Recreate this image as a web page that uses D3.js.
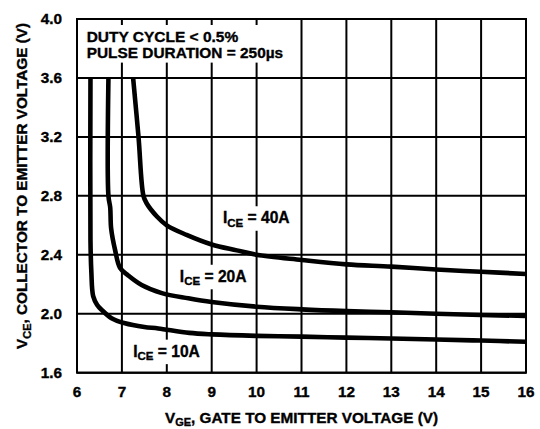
<!DOCTYPE html>
<html>
<head>
<meta charset="utf-8">
<script src="https://cdn.jsdelivr.net/npm/d3@7"></script>
<style>
  html, body { margin: 0; padding: 0; background: #fff; }
  svg { display: block; }
  text { font-family: "Liberation Sans", Arial, sans-serif; font-weight: bold; fill: #000; stroke: #000; stroke-width: 0.35px; }
</style>
</head>
<body>
<svg id="chart" width="540" height="429"></svg>
<script>
// ---- data ----
const xTicks = [6, 7, 8, 9, 10, 11, 12, 13, 14, 15, 16];
const yTicks = [1.6, 2.0, 2.4, 2.8, 3.2, 3.6, 4.0];

// I_CE = 10A
const vge10 = [6.30, 6.30, 6.32, 6.36, 6.45, 6.55, 6.77, 7.07, 7.5, 7.81, 8.5, 9, 10, 11, 12, 13, 14, 15, 16];
const vce10 = [3.6, 2.5, 2.28, 2.12, 2.06, 2.026, 1.97, 1.935, 1.91, 1.90, 1.87, 1.86, 1.85, 1.845, 1.838, 1.832, 1.825, 1.818, 1.81];
// I_CE = 20A
const vge20 = [6.70, 6.70, 6.74, 6.76, 6.85, 6.96, 7.14, 7.44, 7.89, 8.48, 9, 10, 11, 12, 13, 14, 15, 16];
const vce20 = [3.6, 2.8, 2.72, 2.58, 2.43, 2.31, 2.26, 2.195, 2.14, 2.105, 2.08, 2.048, 2.03, 2.018, 2.01, 2.0, 1.992, 1.985];
// I_CE = 40A
const vge40 = [7.25, 7.37, 7.48, 7.55, 7.78, 8.0, 8.44, 9.0, 9.56, 10, 11, 12, 13, 14, 15, 16];
const vce40 = [3.6, 3.2, 2.8, 2.75, 2.66, 2.60, 2.535, 2.47, 2.43, 2.40, 2.365, 2.335, 2.32, 2.30, 2.285, 2.27];

const curveNames = ['10A', '20A', '40A'];
const labelAt = [[7.25, 1.709], [8.29, 2.217], [9.25, 2.614]]; // left/baseline of each I_CE label
const noteLines = ['DUTY CYCLE < 0.5%', 'PULSE DURATION = 250\u00b5s'];

// ---- layout ----
const L = 77, R = 526, T = 19, B = 372.7;
const FS = 15.3;

const x = d3.scaleLinear().domain([6, 16]).range([L, R]);
const y = d3.scaleLinear().domain([1.6, 4.0]).range([B, T]);

const svg = d3.select('#chart');

// grid
const grid = svg.append('g').attr('stroke', '#000').attr('stroke-width', 2);
grid.selectAll('line.v').data(xTicks).join('line').attr('class', 'v')
  .attr('x1', d => x(d)).attr('x2', d => x(d)).attr('y1', T).attr('y2', B);
grid.selectAll('line.h').data(yTicks).join('line').attr('class', 'h')
  .attr('x1', L).attr('x2', R).attr('y1', d => y(d)).attr('y2', d => y(d));

// curves
svg.append('clipPath').attr('id', 'plot').append('rect')
  .attr('x', L).attr('y', T).attr('width', R - L).attr('height', B - T);

const series = [
  d3.zip(vge10, vce10),
  d3.zip(vge20, vce20),
  d3.zip(vge40, vce40),
];
const line = d3.line()
  .x(d => x(d[0])).y(d => y(d[1]))
  .curve(d3.curveCatmullRom.alpha(0.5));

svg.append('g').attr('clip-path', 'url(#plot)')
  .selectAll('path').data(series).join('path')
  .attr('d', line)
  .attr('fill', 'none').attr('stroke', '#000')
  .attr('stroke-width', 4.6).attr('stroke-linejoin', 'round');

// top note, white box knocks out the grid behind it
const noteW = [151.5, 196.5];
const note = svg.append('g');
const noteBg = note.append('rect').attr('fill', '#fff');
noteLines.forEach((s, i) => {
  note.append('text').attr('x', 86.7).attr('y', 42 + i * 15.6)
    .attr('font-size', FS)
    .attr('textLength', noteW[i]).attr('lengthAdjust', 'spacingAndGlyphs')
    .text(s);
});
const nb = note.node().getBBox();
noteBg.attr('x', nb.x - 5).attr('y', nb.y - 3).attr('width', nb.width + 8).attr('height', nb.height + 5);

// I_CE labels
curveNames.forEach((nm, i) => {
  const g = svg.append('g');
  const bg = g.append('rect').attr('fill', '#fff');
  const t = g.append('text').attr('x', x(labelAt[i][0])).attr('y', y(labelAt[i][1])).attr('font-size', 15.6);
  t.append('tspan').text('I');
  t.append('tspan').attr('font-size', 11.5).attr('dy', 3.5).text('CE');
  t.append('tspan').attr('dy', -3.5).text(' = ' + nm);
  const b = g.node().getBBox();
  bg.attr('x', b.x - 3).attr('y', b.y - 3).attr('width', b.width + 6).attr('height', b.height + 5);
});

// frame
svg.append('rect').attr('x', L).attr('y', T).attr('width', R - L).attr('height', B - T)
  .attr('fill', 'none').attr('stroke', '#000').attr('stroke-width', 2);

// tick labels
svg.append('g').selectAll('text').data(xTicks).join('text')
  .attr('x', d => x(d)).attr('y', 397).attr('text-anchor', 'middle')
  .attr('font-size', FS).text(d => d);
svg.append('g').selectAll('text').data(yTicks).join('text')
  .attr('x', 62).attr('y', d => y(d) + 5).attr('text-anchor', 'end')
  .attr('font-size', FS).text(d => d.toFixed(1));

// axis titles
const xt = svg.append('text').attr('x', (L + R) / 2).attr('y', 422.5)
  .attr('text-anchor', 'middle').attr('font-size', FS);
xt.append('tspan').text('V');
xt.append('tspan').attr('font-size', 11).attr('dy', 3.5).text('GE');
xt.append('tspan').attr('dy', -3.5).text(', GATE TO EMITTER VOLTAGE (V)');

const yt = svg.append('text').attr('transform', 'translate(27,186) rotate(-90)')
  .attr('text-anchor', 'middle').attr('font-size', FS);
yt.append('tspan').text('V');
yt.append('tspan').attr('font-size', 11).attr('dy', 3.5).text('CE');
yt.append('tspan').attr('dy', -3.5).text(', COLLECTOR TO EMITTER VOLTAGE (V)');
</script>
</body>
</html>
